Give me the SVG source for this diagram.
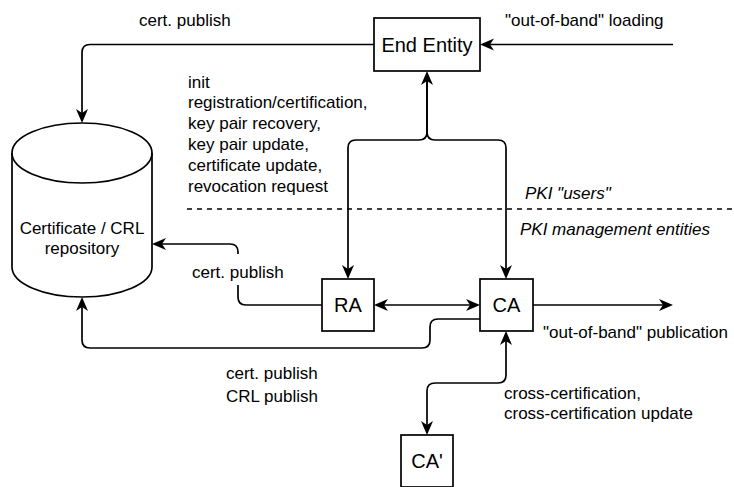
<svg xmlns="http://www.w3.org/2000/svg" width="734" height="487" viewBox="0 0 734 487">
  <style>
    .shape { fill: #ffffff; stroke: #000000; stroke-width: 1.7; }
    .edge { fill: none; stroke: #000000; stroke-width: 1.7; }
    .lbl { font-family: "Liberation Sans", Arial, Helvetica, sans-serif; font-size: 17px; fill: #000000; }
    .node { font-family: "Liberation Sans", Arial, Helvetica, sans-serif; font-size: 20px; fill: #000000; text-anchor: middle; }
    .it { font-style: italic; }
  </style>
  <defs>
    <!-- classic arrowhead, tip sits 3px past the path end -->
    <marker id="arrow" viewBox="-15 -7 16 14" markerWidth="16" markerHeight="14" refX="-3" refY="0" orient="auto-start-reverse" markerUnits="userSpaceOnUse">
      <path d="M0,0 L-14,-6 L-10,0 L-14,6 Z" fill="#000000"/>
    </marker>
  </defs>

  <rect width="734" height="487" fill="#ffffff"/>

  <!-- boundary between PKI users and management entities -->
  <g id="boundary">
    <path d="M187,209 L734,209" fill="none" stroke="#000000" stroke-width="1.6" stroke-dasharray="5 5"/>
    <text class="lbl it" x="525" y="199">PKI "users"</text>
    <text class="lbl it" x="520" y="235">PKI management entities</text>
  </g>

  <g id="connectors">
    <!-- End Entity publishes to repository -->
    <path class="edge" d="M374,44.5 L90,44.5 Q82,44.5 82,52.5 L82,120" marker-end="url(#arrow)"/>
    <!-- out-of-band loading -->
    <path class="edge" d="M673,44.5 L483,44.5" marker-end="url(#arrow)"/>
    <!-- End Entity <-> RA -->
    <path class="edge" d="M427,74 L427,132 Q427,140 419,140 L356,140 Q348,140 348,148 L348,276" marker-start="url(#arrow)" marker-end="url(#arrow)"/>
    <!-- End Entity <-> CA -->
    <path class="edge" d="M427,74 L427,132 Q427,140 435,140 L498,140 Q506,140 506,148 L506,276" marker-end="url(#arrow)"/>
    <!-- RA <-> CA -->
    <path class="edge" d="M377,305 L477,305" marker-start="url(#arrow)" marker-end="url(#arrow)"/>
    <!-- CA out-of-band publication -->
    <path class="edge" d="M533,305 L670,305" marker-end="url(#arrow)"/>
    <!-- RA publishes to repository -->
    <path class="edge" d="M322,305 L246,305 Q238,305 238,297 L238,252 Q238,244 230,244 L155,244" marker-end="url(#arrow)"/>
    <!-- CA publishes to repository -->
    <path class="edge" d="M480,319 L438,319 Q430,319 430,327 L430,340 Q430,348 422,348 L90,348 Q82,348 82,340 L82,300" marker-end="url(#arrow)"/>
    <!-- CA <-> CA' cross-certification -->
    <path class="edge" d="M506,334 L506,375 Q506,383 498,383 L435,383 Q427,383 427,391 L427,432" marker-start="url(#arrow)" marker-end="url(#arrow)"/>
  </g>

  <g id="edge-labels">
    <text class="lbl" x="139" y="25.5">cert. publish</text>
    <text class="lbl" x="505" y="25.5">"out-of-band" loading</text>
    <text class="lbl" x="188">
      <tspan x="188" y="87.5">init</tspan>
      <tspan x="188" y="108.3">registration/certification,</tspan>
      <tspan x="188" y="129.1">key pair recovery,</tspan>
      <tspan x="188" y="149.9">key pair update,</tspan>
      <tspan x="188" y="170.7">certificate update,</tspan>
      <tspan x="188" y="191.5">revocation request</tspan>
    </text>
    <rect x="190" y="254" width="98" height="31" fill="#ffffff"/>
    <text class="lbl" x="192" y="278">cert. publish</text>
    <text class="lbl">
      <tspan x="226" y="379">cert. publish</tspan>
      <tspan x="226" y="402">CRL publish</tspan>
    </text>
    <text class="lbl" x="543" y="338">"out-of-band" publication</text>
    <text class="lbl">
      <tspan x="504" y="399">cross-certification,</tspan>
      <tspan x="504" y="419">cross-certification update</tspan>
    </text>
  </g>

  <g id="repository">
    <path class="shape" d="M12,153 A70,30 0 0 1 152,153 L152,267 A70,30 0 0 1 12,267 Z"/>
    <path class="edge" d="M12,153 A70,30 0 0 0 152,153"/>
    <text class="lbl" text-anchor="middle" x="82" y="234">Certificate / CRL</text>
    <text class="lbl" text-anchor="middle" x="82" y="254">repository</text>
  </g>

  <g id="end-entity">
    <rect class="shape" x="374" y="18" width="106" height="53"/>
    <text class="node" x="427" y="51.5">End Entity</text>
  </g>

  <g id="ra">
    <rect class="shape" x="322" y="279" width="52" height="52"/>
    <text class="node" x="348" y="312">RA</text>
  </g>

  <g id="ca">
    <rect class="shape" x="480" y="279" width="53" height="52"/>
    <text class="node" x="506.5" y="312">CA</text>
  </g>

  <g id="ca-prime">
    <rect class="shape" x="401" y="435" width="52" height="52"/>
    <text class="node" x="427" y="468">CA'</text>
  </g>
</svg>
